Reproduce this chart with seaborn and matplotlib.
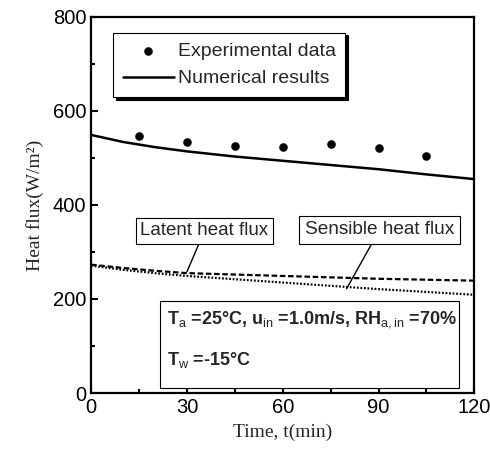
import numpy as np
import pandas as pd
import matplotlib
matplotlib.use("Agg")
import matplotlib.pyplot as plt
from matplotlib.patches import Rectangle
from matplotlib.ticker import MultipleLocator
import seaborn as sns

# ── Data ────────────────────────────────────────────────────────────
exp_time = [15, 30, 45, 60, 75, 90, 105]
exp_flux = [547, 534, 526, 523, 530, 521, 504]

sim_time = [0, 10, 20, 30, 45, 60, 75, 90, 105, 120]
numerical = [549, 534, 523, 514, 503, 494, 485, 476, 465, 455]
latent = [273, 266, 260, 255, 252, 249, 246, 243, 241, 239]
sensible = [271, 262, 255, 249, 242, 235, 228, 221, 215, 209]

x_ticks = [0, 30, 60, 90, 120]
y_ticks = [0, 200, 400, 600, 800]

# ── Style ───────────────────────────────────────────────────────────
sns.set_style("ticks")
plt.rcParams["font.family"] = ["Liberation Sans", "DejaVu Sans"]
plt.rcParams["mathtext.fontset"] = "custom"
plt.rcParams["mathtext.rm"] = "Liberation Sans"
plt.rcParams["mathtext.bf"] = "Liberation Sans:bold"
plt.rcParams["mathtext.it"] = "Liberation Sans:italic"

SERIF = ["Liberation Serif", "DejaVu Serif"]

fig = plt.figure(figsize=(4.9, 4.57), dpi=100)
ax = fig.add_axes([0.186, 0.140, 0.782, 0.823])

exp_df = pd.DataFrame({"t": exp_time, "q": exp_flux})
sim_df = pd.DataFrame({"t": sim_time, "num": numerical,
                       "lat": latent, "sen": sensible})

sns.scatterplot(data=exp_df, x="t", y="q", ax=ax, color="black", s=38,
                edgecolor="black", linewidth=0, label="Experimental data",
                zorder=3)
sns.lineplot(data=sim_df, x="t", y="num", ax=ax, color="black",
             linewidth=1.8, label="Numerical results")
sns.lineplot(data=sim_df, x="t", y="lat", ax=ax, color="black",
             linewidth=1.6, linestyle=(0, (2.5, 1.2)), legend=False)
sns.lineplot(data=sim_df, x="t", y="sen", ax=ax, color="black",
             linewidth=1.6, linestyle=(0, (0.8, 0.8)), legend=False)

ax.set_xlim(0, 120)
ax.set_ylim(0, 800)
ax.set_xticks(x_ticks)
ax.set_yticks(y_ticks)
ax.xaxis.set_minor_locator(MultipleLocator(15))
ax.yaxis.set_minor_locator(MultipleLocator(100))
ax.tick_params(which="both", direction="in", top=False, right=False,
               labelsize=14.5, width=1.5, color="black", labelcolor="black")
ax.tick_params(which="major", length=5)
ax.tick_params(which="minor", length=3)
for sp in ax.spines.values():
    sp.set_visible(True)
    sp.set_linewidth(1.6)
    sp.set_color("black")

ax.set_xlabel("Time, t(min)", family=SERIF, fontsize=14, labelpad=5)
ax.set_ylabel("Heat flux(W/m²)", family=SERIF, fontsize=14, labelpad=6)

leg = ax.legend(loc="upper left", bbox_to_anchor=(0.058, 0.958),
                frameon=True, fancybox=False, shadow={"color": "black",
                                                       "alpha": 1.0},
                edgecolor="black", fontsize=14, handlelength=2.6,
                borderpad=0.5, labelspacing=0.5, handletextpad=0.2,
                borderaxespad=0)
leg.get_frame().set_linewidth(0.8)

# ── Annotations ─────────────────────────────────────────────────────
ax.annotate("Latent heat flux", xy=(30, 258), xytext=(35.5, 345),
            ha="center", va="center", fontsize=13.5,
            bbox=dict(boxstyle="square,pad=0.25", fc="white", ec="black",
                      lw=0.8),
            arrowprops=dict(arrowstyle="-", color="black", lw=1.0,
                            shrinkA=0, shrinkB=0))
ax.annotate("Sensible heat flux", xy=(80, 222), xytext=(90.3, 347),
            ha="center", va="center", fontsize=13.7,
            bbox=dict(boxstyle="square,pad=0.3", fc="white", ec="black",
                      lw=0.8),
            arrowprops=dict(arrowstyle="-", color="black", lw=1.0,
                            shrinkA=0, shrinkB=0))

ax.add_patch(Rectangle((0.181, 0.014), 0.78, 0.23, transform=ax.transAxes,
                       fc="white", ec="black", lw=0.8, zorder=4))
ax.text(0.198, 0.196,
        r"T$_{\mathrm{a}}$ =25°C, u$_{\mathrm{in}}$ =1.0m/s, "
        r"RH$_{\mathrm{a,in}}$ =70%",
        transform=ax.transAxes, fontsize=13, fontweight="bold",
        va="center", ha="left", zorder=5)
ax.text(0.198, 0.088, r"T$_{\mathrm{w}}$ =-15°C",
        transform=ax.transAxes, fontsize=13, fontweight="bold",
        va="center", ha="left", zorder=5)

fig.savefig("out.png", dpi=100, facecolor="white")
